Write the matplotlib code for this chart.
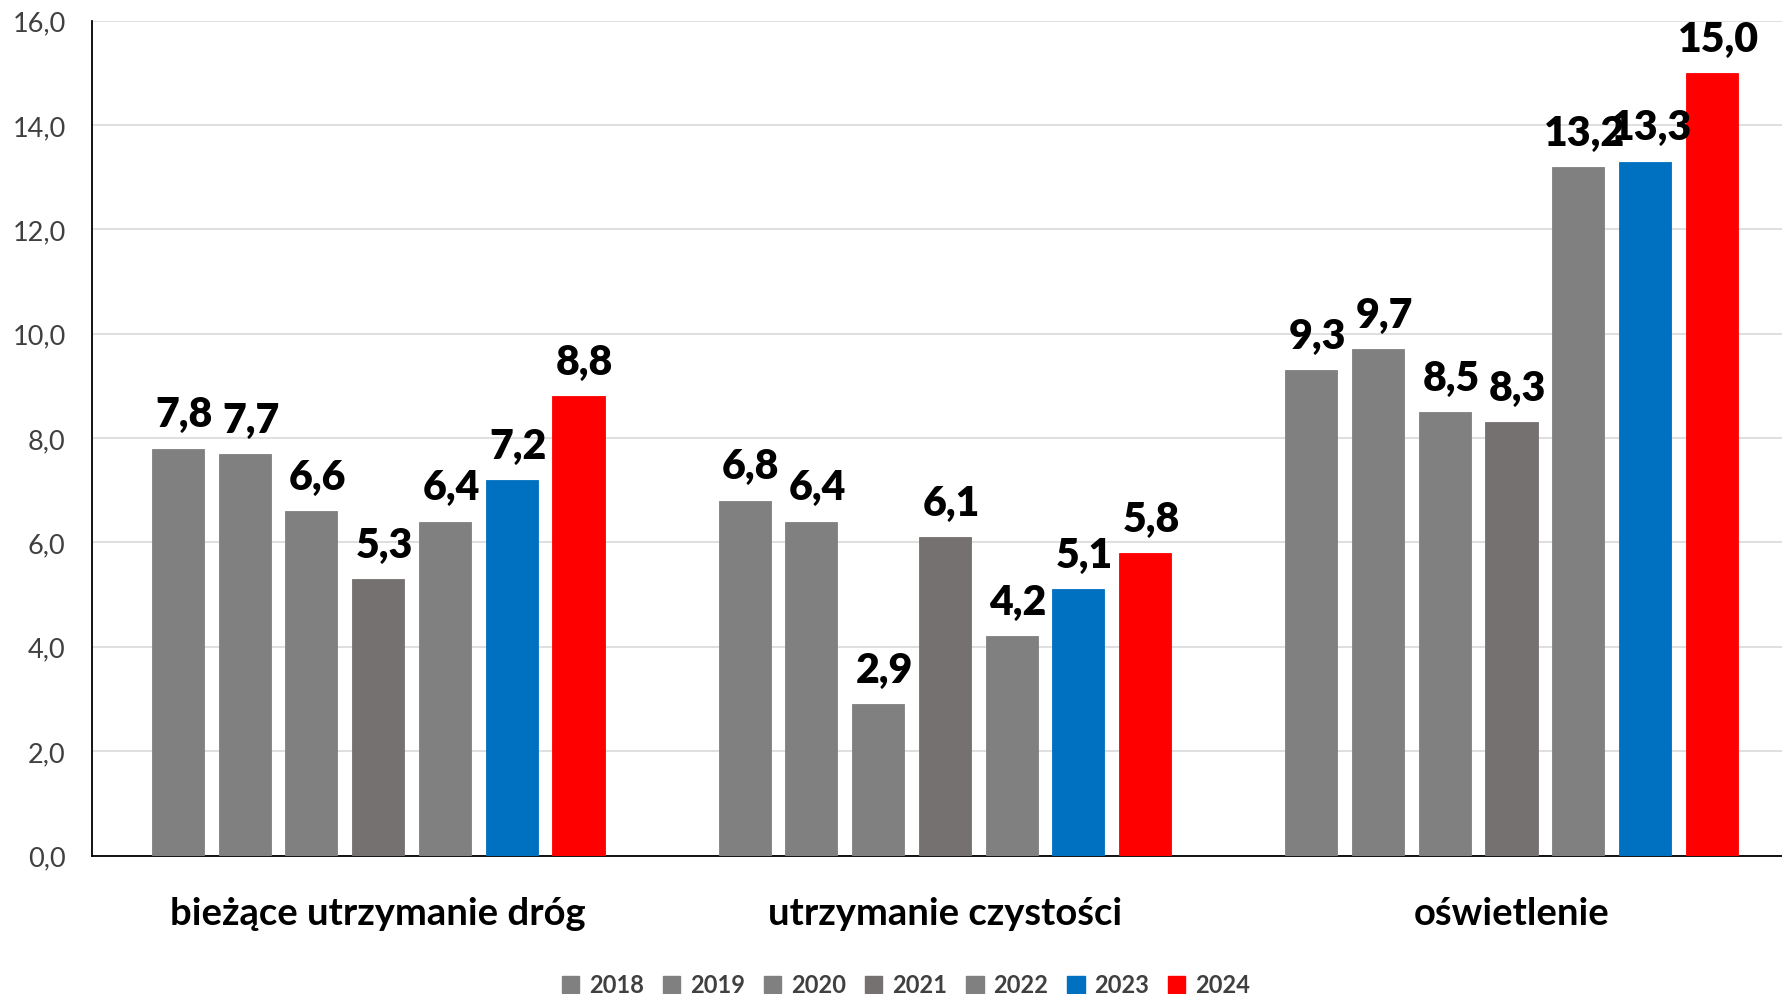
import matplotlib
matplotlib.use("Agg")
import matplotlib.pyplot as plt
from matplotlib.patches import Patch

categories = ["bieżące utrzymanie dróg", "utrzymanie czystości", "oświetlenie"]
years = ["2018", "2019", "2020", "2021", "2022", "2023", "2024"]
v2018 = [7.8, 6.8, 9.3]
v2019 = [7.7, 6.4, 9.7]
v2020 = [6.6, 2.9, 8.5]
v2021 = [5.3, 6.1, 8.3]
v2022 = [6.4, 4.2, 13.2]
v2023 = [7.2, 5.1, 13.3]
v2024 = [8.8, 5.8, 15.0]
series = [v2018, v2019, v2020, v2021, v2022, v2023, v2024]
colors = ["#808080", "#808080", "#808080", "#767171", "#808080", "#0070C0", "#FF0000"]
yticks = [0, 2, 4, 6, 8, 10, 12, 14, 16]

plt.rcParams['font.family'] = ['Lato', 'DejaVu Sans']

W, H = 1783, 995
fig = plt.figure(figsize=(W / 100, H / 100), dpi=100)
left_px, right_px = 92, 1783
top_px, bot_px = 21.7, 856.5
ax = fig.add_axes([left_px / W, 1 - bot_px / H, (right_px - left_px) / W, (bot_px - top_px) / H])

slot = 0.1178
bw = 0.092
n = len(series)
for i, (vals, c) in enumerate(zip(series, colors)):
    xs = [k + (i - (n - 1) / 2) * slot for k in range(len(categories))]
    ax.bar(xs, vals, width=bw, color=c, zorder=3, edgecolor=c, linewidth=0.6)
    for x, v in zip(xs, vals):
        ax.annotate(f"{v:.1f}".replace(".", ","), (x, v), xytext=(4.5, 16),
                    textcoords="offset points", ha="center", va="baseline",
                    fontsize=29.5, fontweight="heavy", color="black", zorder=5,
                    annotation_clip=False)

ax.set_xlim(-0.505, 2.479)
ax.set_ylim(0, 16)
ax.set_yticks(yticks)
ax.set_yticklabels([f"{t:.1f}".replace(".", ",") for t in yticks])
ax.tick_params(axis="y", length=0, pad=19, labelsize=19.5, labelcolor="#404040")
ax.set_xticks(range(len(categories)))
ax.set_xticklabels(categories)
ax.tick_params(axis="x", length=0, pad=29, labelsize=27.5)
for lab in ax.get_xticklabels():
    lab.set_fontweight("bold")
    lab.set_color("black")
ax.grid(axis="y", color="#d9d9d9", linewidth=1.2, zorder=0)
ax.set_axisbelow(True)
for s in ["top", "right"]:
    ax.spines[s].set_visible(False)
ax.spines["left"].set_color("black")
ax.spines["bottom"].set_color("black")
ax.spines["left"].set_linewidth(1.3)
ax.spines["bottom"].set_linewidth(1.3)

handles = [Patch(facecolor=c, edgecolor=c) for c in colors]
leg = fig.legend(handles, years, loc="center", bbox_to_anchor=(0.508, 1 - 986 / H), ncol=7,
                 frameon=False, fontsize=17, handlelength=0.75, handleheight=0.75,
                 handletextpad=0.4, columnspacing=0.8, borderaxespad=0, borderpad=0)
for t in leg.get_texts():
    t.set_fontweight("bold")
    t.set_color("#404040")

fig.savefig("out.png", dpi=100, facecolor="white")
